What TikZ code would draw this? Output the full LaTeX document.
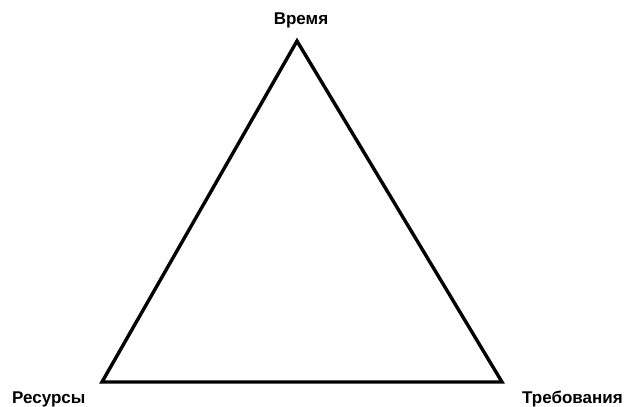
\documentclass[tikz,border=0pt]{standalone}
\usepackage{fontspec}
\setmainfont{Liberation Sans}
\begin{document}
\begin{tikzpicture}[x=1pt,y=-1pt,
  lbl/.style={font=\fontsize{17}{20}\selectfont\bfseries, inner sep=0pt},
  edge/.style={line width=3.4pt, line join=miter}]
\useasboundingbox (0,0) rectangle (627,407);
\coordinate (t) at (297,41);
\coordinate (l) at (102,382);
\coordinate (r) at (502,382);
\draw[edge] (t) -- (l) -- (r) -- cycle;
\node[lbl, anchor=base] (vr) at (301,24) {Время};
\node[lbl, anchor=base west] (res) at (12,403) {Ресурсы};
\node[lbl, anchor=base west] (treb) at (522,403) {Требования};
\end{tikzpicture}
\end{document}
